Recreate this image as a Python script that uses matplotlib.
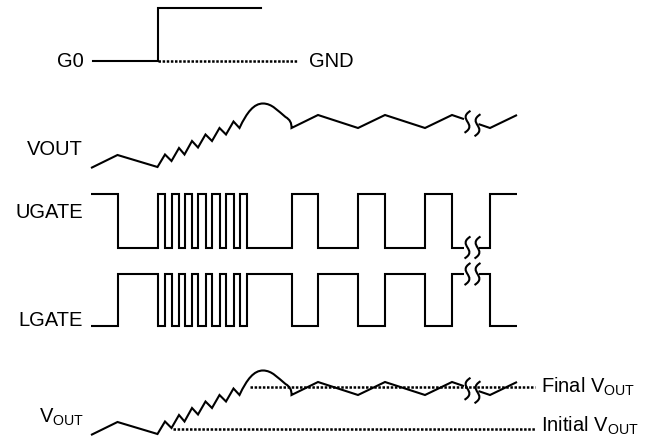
import matplotlib.pyplot as plt
import numpy as np
from matplotlib.path import Path
from matplotlib.patches import PathPatch

plt.rcParams['font.family'] = ['Liberation Sans', 'DejaVu Sans']
plt.rcParams['mathtext.fontset'] = 'custom'
plt.rcParams['mathtext.rm'] = 'Liberation Sans'
plt.rcParams['mathtext.it'] = 'Liberation Sans:italic'

# --- waveform data (time along x, levels in arbitrary units) ---
t_start, t_end = 91, 517
g0_start, g0_step, g0_end, gnd_end = 93, 158, 261, 298

# UGATE toggle times (UGATE starts high, LGATE is the complement)
gate_edges = [117.5, 157.5, 165, 171.5, 179, 184.5, 192, 198, 205.5, 212,
              219.5, 226, 233.5, 239.5, 246.5, 292, 318, 358, 385, 425, 452, 490]

# VOUT during soft-start: value at the start and at each gate edge
vout_ramp_t = [91, 117.5, 157.5, 165, 171.5, 179, 184.5, 192, 198, 205.5,
               212, 219.5, 226, 233.5, 239.5]
vout_ramp_v = [0, 13, 1, 13.5, 7, 20, 13.5, 27, 20.5, 33.5, 27, 40, 33.5, 46.5, 40]
# overshoot bump, bezier control points (cubic, cubic, quadratic)
bump_t = [247, 254, 263, 272, 278, 285.5, 292, 291.5]
bump_v = [56, 64.5, 64.5, 64.5, 57, 51, 47.5, 40]
# steady-state ripple
ripple_t = [318, 358, 385, 425, 452, 490, 517]
ripple_v = [53, 40, 53, 40, 53, 40, 53]

initial_v = 6.5
final_v = 48.5
break_t = [467.5, 477.5]
gap = (464, 478.5)

# --- layout (pixel-like units, y up) ---
W, H = 657, 438
g0_lo, g0_hi = 377, 430.5
vout_base = 270
ug_hi, ug_lo = 244, 190.5
lg_hi, lg_lo = 164, 112
vout2_base = 3
LW = 1.5
FS = 14.5
DOT = (0, (1.0, 0.65))
DOT_LW = 1.8

fig = plt.figure(figsize=(W / 100, H / 100), dpi=100)
ax = fig.add_axes([0, 0, 1, 1])
ax.set_xlim(0, W)
ax.set_ylim(0, H)
ax.axis('off')


def add_path(verts, codes, **kw):
    ax.add_patch(PathPatch(Path(verts, codes), fill=False, lw=LW,
                           edgecolor='black', capstyle='butt', **kw))


def squiggle(xc, yc, h=11, w=11):
    verts = [(xc + 3, yc + h), (xc - w, yc + h * 0.2),
             (xc + w, yc - h * 0.2), (xc - 3, yc - h)]
    codes = [Path.MOVETO, Path.CURVE4, Path.CURVE4, Path.CURVE4]
    add_path(verts, codes, zorder=4)


def gate_trace(hi, lo, start_high):
    level = hi if start_high else lo
    verts = [(t_start, level)]
    codes = [Path.MOVETO]
    for e in gate_edges:
        if e == gate_edges[-1]:
            # broken time axis before the last edge
            verts += [(gap[0], level), (gap[1], level)]
            codes += [Path.LINETO, Path.MOVETO]
        new = lo if level == hi else hi
        verts += [(e, level), (e, new)]
        codes += [Path.LINETO, Path.LINETO]
        level = new
    verts.append((t_end, level))
    codes.append(Path.LINETO)
    add_path(verts, codes)
    for bx in break_t:
        squiggle(bx, lo if start_high else hi)


def vout_trace(base):
    verts = [(t, base + v) for t, v in zip(vout_ramp_t, vout_ramp_v)]
    codes = [Path.MOVETO] + [Path.LINETO] * (len(verts) - 1)
    verts += [(t, base + v) for t, v in zip(bump_t, bump_v)]
    codes += [Path.CURVE4] * 6 + [Path.CURVE3] * 2
    # ripple up to the break, then after it
    seg_t = ripple_t[:5]
    seg_v = ripple_v[:5]
    verts += [(t, base + v) for t, v in zip(seg_t, seg_v)]
    codes += [Path.LINETO] * len(seg_t)
    g_v = np.interp(gap, ripple_t[4:6], ripple_v[4:6])
    verts += [(gap[0], base + g_v[0]), (gap[1], base + g_v[1])]
    codes += [Path.LINETO, Path.MOVETO]
    verts += [(t, base + v) for t, v in zip(ripple_t[5:], ripple_v[5:])]
    codes += [Path.LINETO] * len(ripple_t[5:])
    add_path(verts, codes, zorder=3)
    b_v = np.interp(break_t, ripple_t[4:6], ripple_v[4:6])
    for bx, bv in zip(break_t, b_v):
        squiggle(bx, base + bv - 1.5)


# G0
ax.plot([g0_start, g0_step, g0_step, g0_end], [g0_lo, g0_lo, g0_hi, g0_hi],
        color='black', lw=LW, solid_joinstyle='miter')
ax.plot([g0_step, gnd_end], [g0_lo, g0_lo], color='black', lw=DOT_LW, ls=DOT)

# VOUT, UGATE, LGATE
vout_trace(vout_base)
gate_trace(ug_hi, ug_lo, True)
gate_trace(lg_hi, lg_lo, False)

# bottom VOUT with initial / final levels
vout_trace(vout2_base)
ax.plot([173, 535], [vout2_base + initial_v] * 2, color='black', lw=DOT_LW, ls=DOT, zorder=2)
ax.plot([250, 535], [vout2_base + final_v] * 2, color='black', lw=DOT_LW, ls=DOT, zorder=2)

# labels
ax.text(84, 371, 'G0', ha='right', va='baseline', fontsize=FS)
ax.text(309, 371, 'GND', ha='left', va='baseline', fontsize=FS)
ax.text(83, 283, 'VOUT', ha='right', va='baseline', fontsize=FS)
ax.text(83, 220, 'UGATE', ha='right', va='baseline', fontsize=FS)
ax.text(83, 111.5, 'LGATE', ha='right', va='baseline', fontsize=FS)
ax.text(84, 15, r'V$_\mathrm{OUT}$', ha='right', va='baseline', fontsize=FS)
ax.text(541, 45, r'Final V$_\mathrm{OUT}$', ha='left', va='baseline', fontsize=FS)
ax.text(541, 6, r'Initial V$_\mathrm{OUT}$', ha='left', va='baseline', fontsize=FS)

fig.savefig('out.png', dpi=100)
